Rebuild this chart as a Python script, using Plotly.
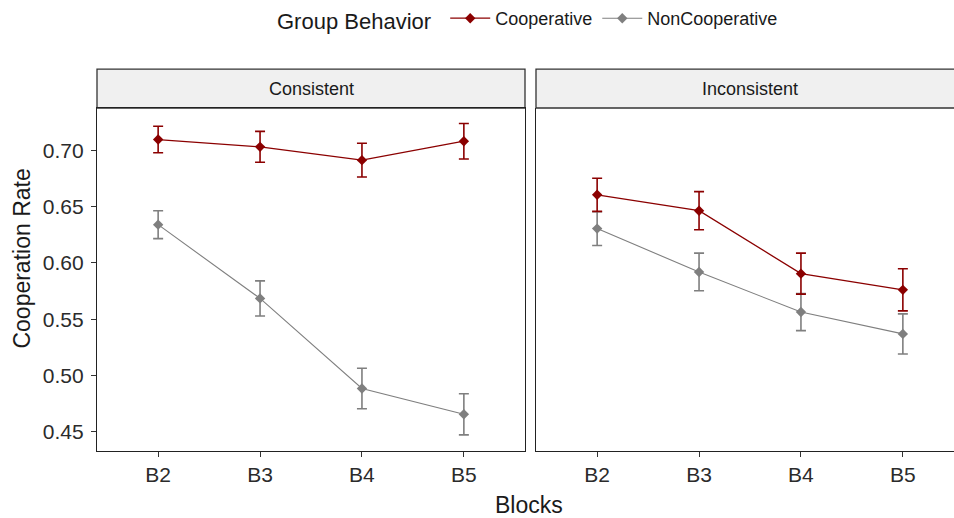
import plotly.graph_objects as go

blocks = ["B2", "B3", "B4", "B5"]
panels = ["Consistent", "Inconsistent"]

cons_coop_mean = [0.7096, 0.7031, 0.6913, 0.7081]
cons_coop_se = [0.0118, 0.0137, 0.0150, 0.0158]
cons_non_mean = [0.6340, 0.5685, 0.4885, 0.4656]
cons_non_se = [0.0124, 0.0156, 0.0180, 0.0183]

inc_coop_mean = [0.6605, 0.6464, 0.5905, 0.5761]
inc_coop_se = [0.0147, 0.0169, 0.0182, 0.0187]
inc_non_mean = [0.6305, 0.5920, 0.5564, 0.5370]
inc_non_se = [0.0150, 0.0167, 0.0165, 0.0178]

y_ticks = [0.45, 0.50, 0.55, 0.60, 0.65, 0.70]
y_tick_text = ["0.45", "0.50", "0.55", "0.60", "0.65", "0.70"]

COOP = "#8B0000"
NON = "#7F7F7F"
FONT = "Liberation Sans, Arial, sans-serif"
TXT = "#1a1a1a"

W, H = 954, 518
ml, mr, mt, mb = 97, 0, 107, 67
pw = W - ml - mr
ph = H - mt - mb

fig = go.Figure()

def add(xax, yax, mean, se, color, name, show, rank, lw):
    fig.add_trace(go.Scatter(
        x=blocks, y=mean, mode="lines+markers", name=name,
        xaxis=xax, yaxis=yax, showlegend=show, legendrank=rank,
        line=dict(color=color, width=lw),
        marker=dict(symbol="diamond", size=8, color=color),
        error_y=dict(type="data", array=se, visible=True, color=color,
                     thickness=1.6, width=5),
    ))

add("x", "y", cons_non_mean, cons_non_se, NON, "NonCooperative", True, 2, 1.1)
add("x", "y", cons_coop_mean, cons_coop_se, COOP, "Cooperative", True, 1, 1.3)
add("x2", "y2", inc_non_mean, inc_non_se, NON, "NonCooperative", False, 2, 1.1)
add("x2", "y2", inc_coop_mean, inc_coop_se, COOP, "Cooperative", False, 1, 1.3)

left_end = 428 / pw
right_start = 439 / pw
px_per_unit = 428 / 4.2
right_units = (W - ml - 439) / px_per_unit

yr = [0.433, 0.7376]
axis_common = dict(showgrid=False, zeroline=False, linecolor="#222222", linewidth=1.2,
                   ticks="outside", ticklen=5, tickcolor="#333333", tickwidth=1.1,
                   tickfont=dict(family=FONT, size=21, color="#2b2b2b"))

fig.update_layout(
    width=W, height=H,
    margin=dict(l=ml, r=mr, t=mt, b=mb),
    paper_bgcolor="white", plot_bgcolor="white",
    font=dict(family=FONT, color=TXT),
    xaxis=dict(domain=[0, left_end], type="category", categoryorder="array",
               categoryarray=blocks, range=[-0.6, 3.6], showline=True, mirror=True,
               ticklabelstandoff=0, **axis_common),
    xaxis2=dict(domain=[right_start, 1], type="category", categoryorder="array",
                categoryarray=blocks, range=[-0.6, -0.6 + right_units], showline=True,
                mirror=False, anchor="y2", ticklabelstandoff=0, **axis_common),
    yaxis=dict(domain=[0, 1], range=yr, tickvals=y_ticks, ticktext=y_tick_text,
               showline=True, mirror=True, ticklabelstandoff=3, **axis_common),
    yaxis2=dict(domain=[0, 1], range=yr, anchor="x2", showline=True, showticklabels=False,
                showgrid=False, zeroline=False, linecolor="#222222", linewidth=1.2, ticks=""),
    legend=dict(orientation="h", x=(275 - ml) / pw, xanchor="left", y=1 + (mt + 1) / ph,
                yanchor="top", font=dict(family=FONT, size=18, color=TXT),
                title=dict(text="Group Behavior ", font=dict(family=FONT, size=22, color=TXT),
                           side="left"),
                itemwidth=40, bgcolor="rgba(0,0,0,0)"),
)

strip_h = 39 / ph
fig.add_shape(type="rect", xref="paper", yref="paper", x0=0, x1=left_end, y0=1, y1=1 + strip_h,
              fillcolor="#F0F0F0", line=dict(color="#333333", width=1.3), layer="below")
fig.add_shape(type="rect", xref="paper", yref="paper", x0=right_start, x1=1.02, y0=1, y1=1 + strip_h,
              fillcolor="#F0F0F0", line=dict(color="#333333", width=1.3), layer="below")
fig.add_annotation(xref="paper", yref="paper", x=left_end / 2, y=1 + strip_h / 2,
                   xanchor="center", yanchor="middle", text=panels[0], showarrow=False,
                   font=dict(family=FONT, size=18, color=TXT))
fig.add_annotation(xref="paper", yref="paper", x=(439 + 214) / pw, y=1 + strip_h / 2,
                   xanchor="center", yanchor="middle", text=panels[1], showarrow=False,
                   font=dict(family=FONT, size=18, color=TXT))
fig.add_annotation(xref="paper", yref="paper", x=(529 - ml) / pw, y=-(505 - (mt + ph)) / ph,
                   xanchor="center", yanchor="middle", text="Blocks", showarrow=False,
                   font=dict(family=FONT, size=23, color=TXT))
fig.add_annotation(xref="paper", yref="paper", x=(22 - ml) / pw, y=(mt + ph - 258) / ph,
                   xanchor="center", yanchor="middle", text="Cooperation Rate", textangle=-90,
                   showarrow=False, font=dict(family=FONT, size=23, color=TXT))

fig.write_html("out.html")
